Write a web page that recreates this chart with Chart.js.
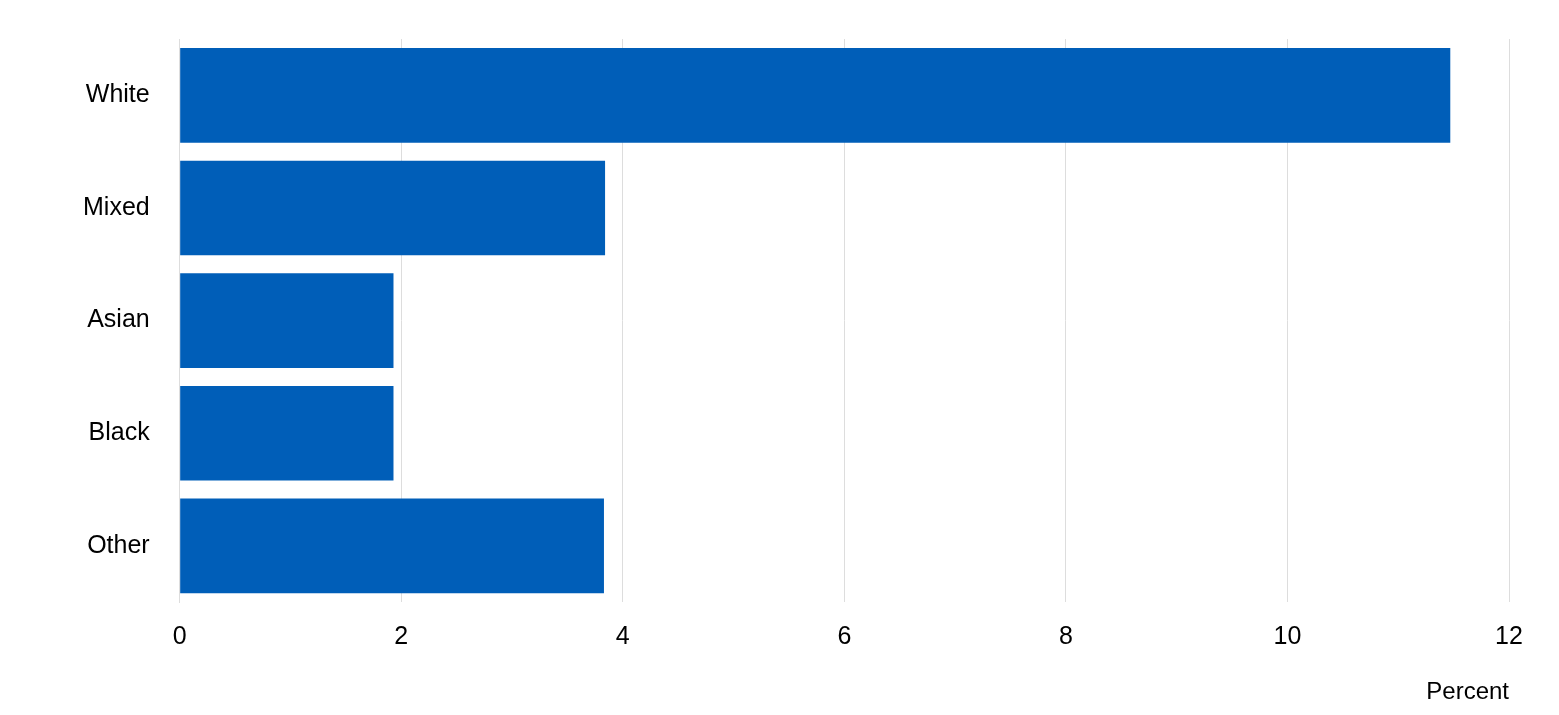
<!DOCTYPE html>
<html><head><meta charset="utf-8">
<script src="https://cdn.jsdelivr.net/npm/chart.js@4"></script>
<style>html,body{margin:0;padding:0;background:#fff}#w{width:1559px;height:715px}</style>
</head><body><div id="w"><canvas id="c"></canvas></div>
<script>
const categories = ["White","Mixed","Asian","Black","Other"];
const values = [11.47, 3.84, 1.93, 1.93, 3.83];
const xTicks = [0,2,4,6,8,10,12];
Chart.defaults.font.family = "'Liberation Sans', Arial, sans-serif";
Chart.defaults.color = "#000";
new Chart(document.getElementById('c'), {
  type: 'bar',
  data: { labels: categories, datasets: [{ data: values, backgroundColor: '#005EB8', barPercentage: 0.84, categoryPercentage: 1 }] },
  options: {
    indexAxis: 'y', responsive: true, maintainAspectRatio: false, animation: false,
    layout: { padding: { top: 39, right: 50, bottom: 8, left: 61 } },
    plugins: { legend: { display: false }, tooltip: { enabled: false } },
    scales: {
      x: { min: 0, max: 12, afterBuildTicks: a => { a.ticks = xTicks.map(v => ({ value: v })); },
        grid: { color: '#dddddd', drawTicks: false },
        border: { display: false },
        ticks: { font: { size: 25 }, padding: 20 },
        title: { display: true, text: 'Percent', align: 'end', font: { size: 24 }, padding: { top: 6, bottom: 0 } } },
      y: { grid: { display: false }, border: { color: '#dddddd' },
        ticks: { font: { size: 25 }, padding: 22 } }
    }
  }
});
</script></body></html>
